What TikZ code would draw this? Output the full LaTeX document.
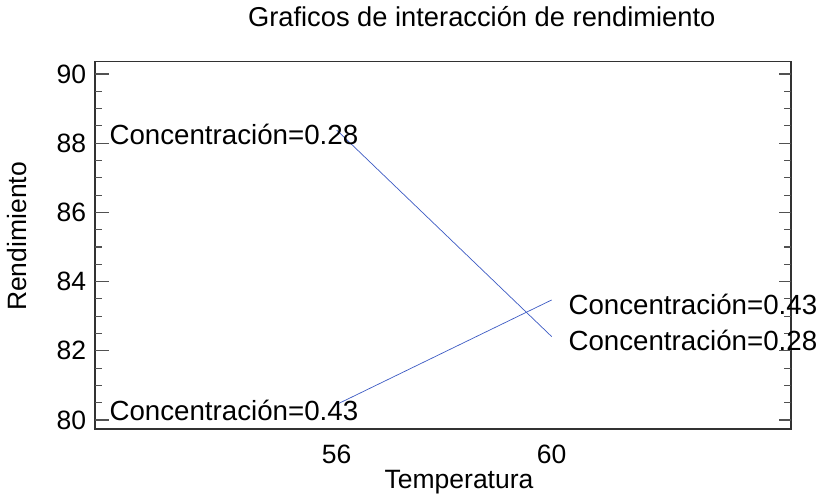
\documentclass[tikz,border=0pt]{standalone}
\usepackage{fontspec}
\setmainfont{Liberation Sans}

\definecolor{plotblue}{RGB}{60,90,195}
\definecolor{framegray}{RGB}{50,50,50}

\tikzset{
    frame/.style={draw=framegray, line width=1.4pt},
    tickmark/.style={draw=framegray!85, line width=1.1pt},
    series/.style={draw=plotblue, line width=0.7pt},
    lbl/.style={inner sep=0pt, font=\fontsize{27.7}{30}\selectfont},
    ticklab/.style={inner sep=0pt, font=\fontsize{26.5}{29}\selectfont},
}

\begin{document}
\begin{tikzpicture}[x=1pt, y=-1pt]
\useasboundingbox (0,0) rectangle (819,495);

%% Help lines
% \draw[help lines, step=50] (0,0) grid (819,495);

%% Titles
\node[lbl, anchor=base, font=\fontsize{27.3}{30}\selectfont] (title) at (481.7,26.7) {Graficos de interacción de rendimiento};
\node[ticklab, anchor=base, rotate=90] (ylabel) at (27,236.5) {Rendimiento};
\node[ticklab, anchor=base] (xlabel) at (459,488) {Temperatura};

%% Data area: Temperatura on x, Rendimiento on y
\begin{scope}[shift={(-2673.3,3188)}, x=53.75pt, y=34.6pt]
    \draw[frame] (51.5,79.74) rectangle (64.45,90.36);

    % major ticks, both sides
    \foreach \y in {80,82,...,90} {
        \draw[tickmark] (51.5,\y) -- ++(14pt,0);
        \draw[tickmark] (64.45,\y) -- ++(-12pt,0);
        \node[ticklab, anchor=east] (ytick\y) at ([xshift=-8.6pt]51.5,\y) {\y};
    }
    % minor ticks
    \foreach \y in {80,82,...,88}
        \foreach \d in {0.5,1,1.5} {
            \draw[tickmark] (51.5,\y+\d) -- ++(7pt,0);
            \draw[tickmark] (64.45,\y+\d) -- ++(-7pt,0);
        }

    % x tick labels
    \foreach \x in {56,60}
        \node[ticklab, anchor=base] (xtick\x) at ([yshift=-34.3pt]\x,79.74) {\x};

    % interaction lines
    \coordinate (a1) at (56,88.38);
    \coordinate (a2) at (60,82.41);
    \coordinate (b1) at (56,80.45);
    \coordinate (b2) at (60,83.47);
    \draw[series] (a1) -- (a2);
    \draw[series] (b1) -- (b2);
\end{scope}

%% Line labels
\node[lbl, anchor=base west] (lo28) at (109.3,144) {Concentración=0.28};
\node[lbl, anchor=base west] (lo43) at (109.3,420) {Concentración=0.43};
\node[lbl, anchor=base west] (hi43) at (568.3,314) {Concentración=0.43};
\node[lbl, anchor=base west] (hi28) at (568.3,350.7) {Concentración=0.28};
\end{tikzpicture}
\end{document}
